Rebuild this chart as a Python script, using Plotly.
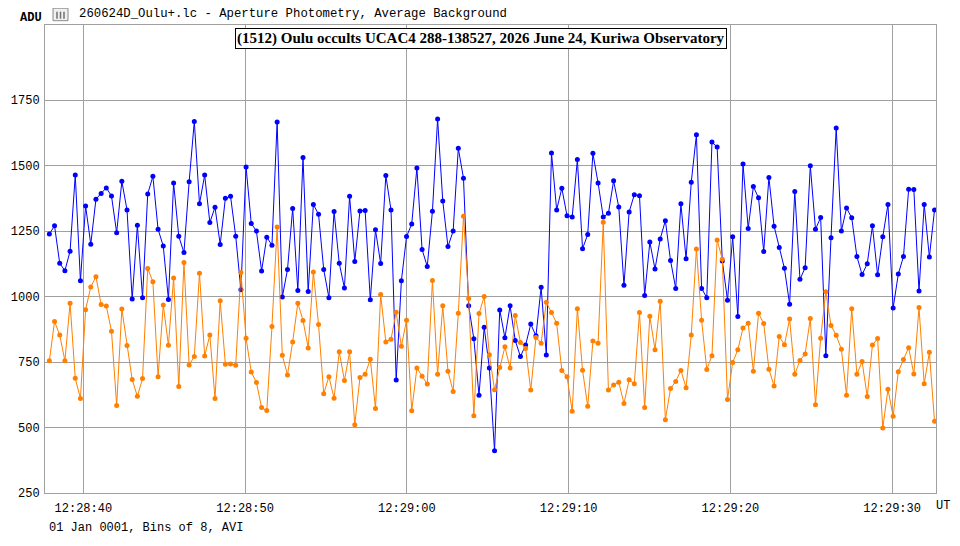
import plotly.graph_objects as go

# Light curve: 8-frame bins, time in seconds after 12:28:00 UT
bin_start_s = 37.90
bin_width_s = 0.32

target_adu = [
    1239, 1270, 1127, 1099, 1173, 1464, 1060, 1346, 1200, 1372,
    1394, 1415, 1384, 1244, 1440, 1331, 991, 1272, 996, 1392,
    1459, 1257, 1193, 989, 1434, 1230, 1168, 1438, 1669, 1354,
    1464, 1283, 1341, 1199, 1375, 1383, 1230, 1026, 1495, 1279,
    1250, 1098, 1227, 1196, 1667, 998, 1103, 1336, 1023, 1531,
    1019, 1352, 1314, 1103, 996, 1325, 1127, 1033, 1383, 1134,
    1327, 1329, 988, 1255, 1126, 1462, 1331, 681, 1060, 1229,
    1277, 1491, 1180, 1115, 1326, 1678, 1365, 1191, 1250, 1566,
    1452, 965, 839, 623, 883, 727, 411, 949, 843, 965,
    832, 771, 815, 895, 850, 1036, 777, 1548, 1331, 1414,
    1309, 1304, 1523, 1183, 1237, 1547, 1434, 1304, 1318, 1442,
    1342, 1043, 1323, 1389, 1385, 1004, 1208, 1105, 1220, 1290,
    1138, 1031, 1354, 1144, 1437, 1618, 1031, 996, 1590, 1571,
    1136, 986, 1228, 924, 1506, 1260, 1420, 1377, 1172, 1455,
    1269, 1187, 1108, 971, 1401, 1066, 1110, 1500, 1257, 1302,
    774, 1225, 1644, 1250, 1338, 1301, 1153, 1084, 1125, 1270,
    1083, 1228, 1352, 956, 1086, 1153, 1410, 1409, 1021, 1352,
    1151, 1331,
]

comparison_adu = [
    755, 905, 853, 755, 975, 688, 611, 950, 1037, 1076,
    970, 964, 868, 584, 953, 813, 683, 619, 687, 1107,
    1057, 694, 968, 814, 1071, 657, 1130, 739, 771, 1089,
    773, 853, 611, 984, 742, 743, 738, 1092, 841, 712,
    672, 576, 565, 886, 1266, 776, 701, 827, 975, 909,
    804, 1094, 893, 629, 694, 612, 789, 680, 789, 511,
    691, 703, 761, 573, 1008, 827, 837, 940, 810, 910,
    564, 727, 696, 666, 1061, 703, 965, 715, 638, 936,
    1307, 993, 545, 935, 1000, 778, 644, 729, 808, 727,
    928, 825, 802, 643, 844, 822, 978, 939, 898, 718,
    694, 562, 954, 719, 581, 830, 822, 1284, 643, 662,
    673, 592, 682, 667, 939, 576, 925, 797, 982, 530,
    649, 676, 718, 652, 853, 1182, 910, 722, 774, 1216,
    1143, 607, 748, 797, 880, 898, 715, 936, 897, 723,
    659, 848, 816, 914, 703, 756, 781, 916, 587, 841,
    1018, 890, 852, 799, 623, 954, 703, 752, 618, 815,
    840, 498, 646, 543, 713, 760, 805, 704, 958, 667,
    787, 524,
]

x_tick_vals = [40, 50, 60, 70, 80, 90]
x_tick_text = ["12:28:40", "12:28:50", "12:29:00", "12:29:10", "12:29:20", "12:29:30"]
y_tick_vals = [250, 500, 750, 1000, 1250, 1500, 1750]

times = [bin_start_s + i * bin_width_s for i in range(len(target_adu))]

MONO = "Liberation Mono"
GRID = "#a0a0a0"

# the page body has an 8px margin, so the figure sits at (8, 8) in the window
OFF = 8
WIN_W, WIN_H = 960, 546
# plot area in window pixels
X0, X1, Y0, Y1 = 45, 935.7, 25.3, 492.7
PW, PH = X1 - X0, Y1 - Y0


def px(x):
    return (x - X0) / PW


def py(y):
    return (Y1 - y) / PH


fig = go.Figure()
fig.add_trace(go.Scatter(
    x=times, y=target_adu, mode="lines+markers",
    line=dict(color="#0000ff", width=1),
    marker=dict(color="#0000ff", size=5),
    name="target",
))
fig.add_trace(go.Scatter(
    x=times, y=comparison_adu, mode="lines+markers",
    line=dict(color="#ff8000", width=1),
    marker=dict(color="#ff8000", size=5),
    name="comparison",
))

fig.update_layout(
    width=WIN_W - OFF, height=WIN_H - OFF,
    margin=dict(l=X0 - OFF, r=WIN_W - X1, t=Y0 - OFF, b=WIN_H - Y1),
    paper_bgcolor="white", plot_bgcolor="white",
    showlegend=False,
    font=dict(family=MONO, size=12, color="#000000"),
)
fig.update_xaxes(
    range=[37.63, 92.71], automargin=False,
    tickvals=x_tick_vals, ticktext=x_tick_text,
    showgrid=True, gridcolor=GRID, gridwidth=1,
    showline=True, linecolor=GRID, linewidth=1, mirror=True,
    zeroline=False, ticks="", ticklabelstandoff=4,
)
fig.update_yaxes(
    range=[250, 2037], automargin=False,
    tickvals=y_tick_vals,
    showgrid=True, gridcolor=GRID, gridwidth=1,
    showline=True, linecolor=GRID, linewidth=1, mirror=True,
    zeroline=False, ticks="", ticklabelstandoff=2,
)

# header: file icon + file name
fig.add_shape(type="rect", xref="paper", yref="paper",
              x0=px(53), x1=px(68), y0=py(21), y1=py(8.5),
              line=dict(color="#8a8a8a", width=1), fillcolor="#f0f0f0")
for ix in (57, 60.5, 64):
    fig.add_shape(type="line", xref="paper", yref="paper",
                  x0=px(ix), x1=px(ix), y0=py(19), y1=py(12),
                  line=dict(color="#707070", width=1.5))
fig.add_annotation(
    text="260624D_Oulu+.lc - Aperture Photometry, Average Background",
    xref="paper", yref="paper", x=px(77), y=py(14.5),
    xanchor="left", yanchor="middle", showarrow=False,
    font=dict(family=MONO, size=12.3, color="#000000"),
)
fig.add_annotation(
    text="<b>ADU</b>", xref="paper", yref="paper", x=px(44), y=py(18),
    xanchor="right", yanchor="middle", showarrow=False,
    font=dict(family=MONO, size=12, color="#000000"),
)
fig.add_annotation(
    text="<b>(1512) Oulu occults UCAC4 288-138527, 2026 June 24, Kuriwa Observatory</b>",
    xref="paper", yref="paper", x=px(481), y=py(38.3),
    xanchor="center", yanchor="middle", showarrow=False,
    font=dict(family="Liberation Serif", size=15, color="#000000"),
    bgcolor="white", bordercolor="#000000", borderwidth=1, borderpad=1,
)
fig.add_annotation(
    text="UT", xref="paper", yref="paper", x=px(943), y=py(506),
    xanchor="center", yanchor="middle", showarrow=False,
    font=dict(family=MONO, size=12, color="#000000"),
)
fig.add_annotation(
    text="01 Jan 0001, Bins of 8, AVI", xref="paper", yref="paper",
    x=px(47), y=py(528), xanchor="left", yanchor="middle", showarrow=False,
    font=dict(family=MONO, size=12, color="#000000"),
)

fig.write_html("out.html")
